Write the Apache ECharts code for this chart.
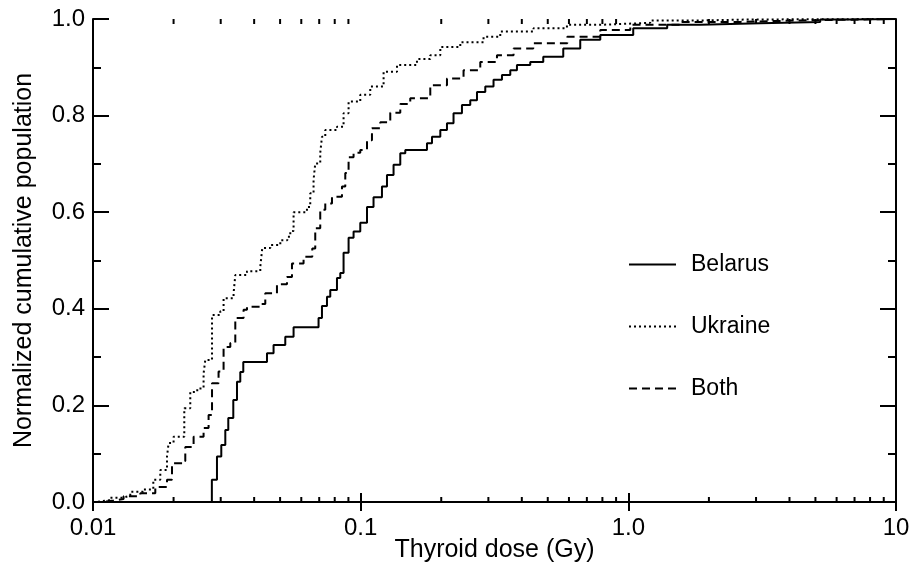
<!DOCTYPE html>
<html>
<head>
<meta charset="utf-8">
<script src="https://cdn.jsdelivr.net/npm/echarts@6/dist/echarts.min.js"></script>
<style>
html,body{margin:0;padding:0;background:#fff;}
#chart{width:911px;height:565px;}
</style>
</head>
<body>
<div id="chart"></div>
<script>
// ---- data ----
const seriesNames = ['Belarus', 'Ukraine', 'Both'];

const belarusDose = [0.01, 0.0278, 0.02905, 0.03015, 0.03121, 0.03202, 0.03343, 0.03451, 0.0355, 0.03643, 0.04467, 0.04727, 0.05228, 0.05615, 0.06961, 0.07168, 0.07484, 0.07699, 0.08156, 0.08391, 0.08632, 0.09013, 0.09408, 0.09966, 0.1056, 0.1117, 0.1201, 0.1254, 0.1327, 0.1406, 0.1468, 0.1769, 0.1847, 0.1984, 0.2101, 0.2223, 0.239, 0.2567, 0.272, 0.2921, 0.3136, 0.3372, 0.3622, 0.3836, 0.4301, 0.481, 0.5713, 0.6612, 0.7856, 1.043, 1.397, 1.856, 3.11, 5.21, 6.75, 10];
const belarusFrac = [0, 0.046, 0.094, 0.118, 0.149, 0.174, 0.211, 0.249, 0.269, 0.290, 0.308, 0.325, 0.342, 0.362, 0.381, 0.406, 0.425, 0.439, 0.464, 0.474, 0.516, 0.547, 0.560, 0.578, 0.611, 0.631, 0.653, 0.677, 0.698, 0.722, 0.729, 0.743, 0.756, 0.770, 0.784, 0.805, 0.822, 0.832, 0.849, 0.860, 0.874, 0.884, 0.894, 0.905, 0.911, 0.922, 0.939, 0.957, 0.967, 0.981, 0.988, 0.991, 0.994, 0.999, 1.0, 1.0];

const ukraineDose = [0.01, 0.0102, 0.0116, 0.01298, 0.01378, 0.01541, 0.0168, 0.01784, 0.0189, 0.01916, 0.02, 0.02193, 0.02309, 0.02452, 0.02589, 0.02627, 0.02784, 0.02989, 0.03075, 0.03351, 0.03401, 0.03761, 0.04217, 0.0429, 0.04596, 0.05009, 0.05319, 0.05458, 0.05615, 0.063, 0.06481, 0.06668, 0.06766, 0.07063, 0.07168, 0.07375, 0.08156, 0.08632, 0.09013, 0.09966, 0.1086, 0.1218, 0.1367, 0.1623, 0.182, 0.1984, 0.2356, 0.2878, 0.3323, 0.4425, 0.5897, 0.7856, 1.207, 1.856, 2.854, 10];
const ukraineFrac = [0, 0.004, 0.009, 0.013, 0.021, 0.026, 0.046, 0.066, 0.094, 0.122, 0.135, 0.194, 0.228, 0.235, 0.266, 0.294, 0.387, 0.395, 0.422, 0.432, 0.470, 0.478, 0.487, 0.526, 0.532, 0.542, 0.549, 0.561, 0.600, 0.611, 0.639, 0.667, 0.701, 0.723, 0.756, 0.770, 0.777, 0.805, 0.829, 0.843, 0.860, 0.891, 0.905, 0.917, 0.925, 0.942, 0.952, 0.963, 0.974, 0.981, 0.988, 0.992, 0.997, 0.999, 1.0, 1.0];

const bothDose = [0.01, 0.01065, 0.01194, 0.01301, 0.01502, 0.01709, 0.0189, 0.01973, 0.02156, 0.02212, 0.02376, 0.02589, 0.02703, 0.02784, 0.02945, 0.03075, 0.03258, 0.03401, 0.03652, 0.03761, 0.04217, 0.04402, 0.04867, 0.05305, 0.05538, 0.06119, 0.06594, 0.06766, 0.07063, 0.07375, 0.07813, 0.08514, 0.0876, 0.09013, 0.09408, 0.09966, 0.1056, 0.1102, 0.1184, 0.129, 0.1406, 0.1532, 0.182, 0.2101, 0.2423, 0.2798, 0.323, 0.3726, 0.4414, 0.5913, 0.7856, 1.017, 1.563, 2.618, 4.386, 7.35, 10];
const bothFrac = [0, 0.003, 0.006, 0.012, 0.018, 0.031, 0.046, 0.080, 0.085, 0.114, 0.135, 0.153, 0.180, 0.246, 0.270, 0.321, 0.329, 0.381, 0.398, 0.404, 0.410, 0.432, 0.451, 0.466, 0.494, 0.508, 0.525, 0.567, 0.605, 0.618, 0.632, 0.653, 0.681, 0.714, 0.723, 0.729, 0.749, 0.774, 0.786, 0.806, 0.824, 0.836, 0.863, 0.877, 0.894, 0.911, 0.925, 0.939, 0.950, 0.963, 0.977, 0.988, 0.994, 0.997, 0.999, 1.0, 1.0];

const xTickValues = [0.01, 0.1, 1, 10];
const xTickLabels = ['0.01', '0.1', '1.0', '10'];
const xMinorMultipliers = [2, 3, 4, 5, 6, 7, 8, 9];
const yTickLabels = ['0.0', '0.2', '0.4', '0.6', '0.8', '1.0'];

// ---- chart ----
const FONT = '"Liberation Sans", Arial, Helvetica, sans-serif';
const chart = echarts.init(document.getElementById('chart'), null, {renderer: 'canvas'});

function pairs(xs, ys) { return xs.map((x, i) => [x, ys[i]]); }

const axisLine = {show: true, lineStyle: {color: '#000', width: 2}};

const option = {
  animation: false,
  backgroundColor: '#fff',
  grid: {left: 93, right: 15, top: 19, bottom: 63, containLabel: false, outerBoundsMode: 'none'},
  legend: {
    orient: 'vertical',
    left: 628,
    top: 253,
    itemWidth: 47,
    itemHeight: 14,
    itemGap: 39,
    padding: 0,
    selectedMode: false,
    data: seriesNames,
    itemStyle: {color: 'rgba(0,0,0,0)', borderWidth: 0, opacity: 0},
    textStyle: {fontFamily: FONT, fontSize: 23, color: '#000', padding: [0, 0, 0, 10]}
  },
  xAxis: [{
    type: 'log', logBase: 10, min: 0.01, max: 10, position: 'bottom',
    axisLine: axisLine,
    axisTick: {show: true, inside: true, length: 9, lineStyle: {color: '#000', width: 2}},
    splitLine: {show: false},
    axisLabel: {
      fontFamily: FONT, fontSize: 24, color: '#000', margin: 14,
      formatter: function (v) {
        const i = xTickValues.findIndex(t => Math.abs(Math.log10(t) - Math.log10(v)) < 1e-6);
        return i >= 0 ? xTickLabels[i] : '';
      }
    },
    name: 'Thyroid dose (Gy)', nameLocation: 'middle', nameGap: 36, nameMoveOverlap: false,
    nameTextStyle: {fontFamily: FONT, fontSize: 25, color: '#000'}
  }, {
    type: 'log', logBase: 10, min: 0.01, max: 10, position: 'top',
    axisLine: axisLine,
    axisTick: {show: true, inside: true, length: 9, lineStyle: {color: '#000', width: 2}},
    axisLabel: {show: false}, splitLine: {show: false}
  }],
  yAxis: [{
    type: 'value', min: 0, max: 1, interval: 0.2, position: 'left',
    axisLine: axisLine,
    axisTick: {show: true, inside: true, length: 16, lineStyle: {color: '#000', width: 2}},
    minorTick: {show: true, splitNumber: 2, length: 8, lineStyle: {color: '#000', width: 2}},
    splitLine: {show: false},
    axisLabel: {
      fontFamily: FONT, fontSize: 24, color: '#000', margin: 8,
      formatter: function (v) { return yTickLabels[Math.round(v / 0.2)]; }
    },
    name: 'Normalized cumulative population', nameLocation: 'middle', nameGap: 56, nameMoveOverlap: false,
    nameTextStyle: {fontFamily: FONT, fontSize: 25, color: '#000'}
  }, {
    type: 'value', min: 0, max: 1, interval: 0.2, position: 'right',
    axisLine: axisLine,
    axisTick: {show: true, inside: true, length: 16, lineStyle: {color: '#000', width: 2}},
    minorTick: {show: true, splitNumber: 2, length: 8, lineStyle: {color: '#000', width: 2}},
    splitLine: {show: false},
    axisLabel: {show: false}
  }],
  series: [{
    name: seriesNames[0], type: 'line', step: 'end', symbol: 'none',
    data: pairs(belarusDose, belarusFrac),
    lineStyle: {color: '#000', width: 2, type: 'solid'},
    itemStyle: {color: '#000'}
  }, {
    name: seriesNames[1], type: 'line', step: 'end', symbol: 'none',
    data: pairs(ukraineDose, ukraineFrac),
    lineStyle: {color: '#000', width: 2, type: [2, 3]},
    itemStyle: {color: '#000'}
  }, {
    name: seriesNames[2], type: 'line', step: 'end', symbol: 'none',
    data: pairs(bothDose, bothFrac),
    lineStyle: {color: '#000', width: 2, type: [8, 5]},
    itemStyle: {color: '#000'}
  }]
};
chart.setOption(option);

// minor log ticks on bottom and top axes, positioned through the axis scale
const yBottom = chart.convertToPixel({yAxisIndex: 0}, 0);
const yTop = chart.convertToPixel({yAxisIndex: 0}, 1);
const minorTicks = [];
for (let d = 0; d < 3; d++) {
  const base = xTickValues[d];
  xMinorMultipliers.forEach(m => {
    const px = chart.convertToPixel({xAxisIndex: 0}, base * m);
    minorTicks.push({type: 'line', silent: true, shape: {x1: px, y1: yBottom, x2: px, y2: yBottom - 5}, style: {stroke: '#000', lineWidth: 2}});
    minorTicks.push({type: 'line', silent: true, shape: {x1: px, y1: yTop, x2: px, y2: yTop + 5}, style: {stroke: '#000', lineWidth: 2}});
  });
}
chart.setOption({graphic: minorTicks});
</script>
</body>
</html>
